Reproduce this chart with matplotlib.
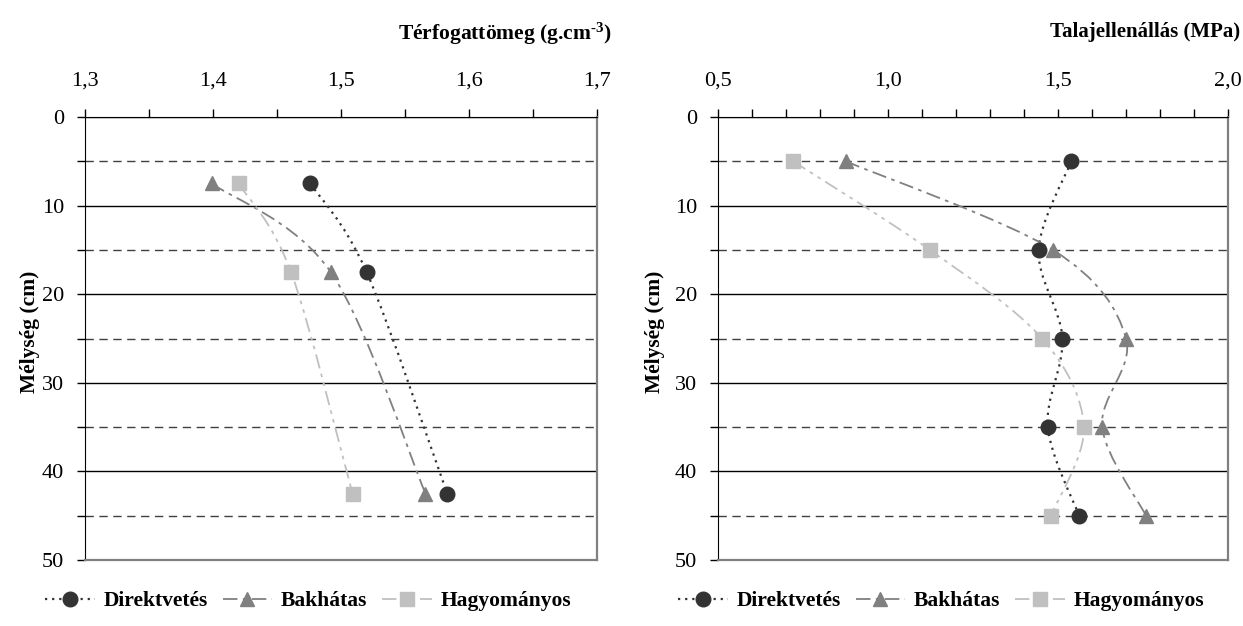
import numpy as np
import matplotlib
matplotlib.use("Agg")
import matplotlib.pyplot as plt
from matplotlib.path import Path
from matplotlib.patches import PathPatch
from matplotlib.lines import Line2D
from matplotlib.ticker import MultipleLocator, FuncFormatter

plt.rcParams['font.family'] = ['Liberation Serif', 'DejaVu Serif']
plt.rcParams['mathtext.fontset'] = 'custom'
plt.rcParams['mathtext.rm'] = 'Liberation Serif'
plt.rcParams['mathtext.bf'] = 'Liberation Serif:bold'

# --- data ---------------------------------------------------------------
series_names = ["Direktvetés", "Bakhátas", "Hagyományos"]

# left panel: bulk density (g/cm3) vs depth (cm)
depth_left = [7.5, 17.5, 42.5]
density_direkt = [1.476, 1.520, 1.583]
density_bakhatas = [1.399, 1.492, 1.566]
density_hagyom = [1.420, 1.461, 1.509]

# right panel: penetration resistance (MPa) vs depth (cm)
depth_right = [5, 15, 25, 35, 45]
resist_direkt = [1.539, 1.443, 1.513, 1.470, 1.562]
resist_bakhatas = [0.876, 1.485, 1.700, 1.630, 1.759]
resist_hagyom = [0.721, 1.123, 1.453, 1.576, 1.479]

left_title = "Térfogattömeg (g.cm$\\mathbf{^{\\text{-}3}}$)"
right_title = "Talajellenállás (MPa)"
ylabel = "Mélység (cm)"

# --- styles ------------------------------------------------------------
colors = ["#333333", "#808080", "#c0c0c0"]
markers = ["o", "^", "s"]
msizes = [10.5, 10.5, 10]
linestyles = [(0, (1, 2.2)), (0, (8, 3, 2, 3)), (0, (8, 3, 2, 3, 2, 3))]
linewidths = [1.6, 1.3, 1.3]


def smooth_path(xs, ys):
    # excel-like smoothed line: catmull-rom segments as cubic bezier
    pts = np.column_stack([xs, ys]).astype(float)
    n = len(pts)
    verts = [pts[0]]
    codes = [Path.MOVETO]
    for i in range(n - 1):
        p0 = pts[i - 1] if i > 0 else pts[i]
        p1 = pts[i]
        p2 = pts[i + 1]
        p3 = pts[i + 2] if i + 2 < n else pts[i + 1]
        c1 = p1 + (p2 - p0) / 6.0
        c2 = p2 - (p3 - p1) / 6.0
        verts += [c1, c2, p2]
        codes += [Path.CURVE4] * 3
    return Path(verts, codes)


def draw_panel(ax, depth, values, xlim, xmajor, xminor, fmt):
    for k, vals in enumerate(values):
        patch = PathPatch(smooth_path(vals, depth), fill=False,
                          edgecolor=colors[k], linestyle=linestyles[k],
                          linewidth=linewidths[k], zorder=3)
        ax.add_patch(patch)
        ax.plot(vals, depth, linestyle="none", marker=markers[k],
                markersize=msizes[k], color=colors[k], zorder=4)

    ax.set_xlim(*xlim)
    ax.set_ylim(50, 0)
    ax.xaxis.tick_top()
    ax.xaxis.set_major_locator(MultipleLocator(xmajor))
    ax.xaxis.set_minor_locator(MultipleLocator(xminor))
    ax.xaxis.set_major_formatter(FuncFormatter(lambda v, p: fmt.format(v).replace(".", ",")))
    ax.yaxis.set_major_locator(MultipleLocator(10))
    ax.yaxis.set_minor_locator(MultipleLocator(5))
    ax.tick_params(axis="both", which="both", direction="out", length=6,
                   width=1, labelsize=16, colors="black")
    ax.tick_params(axis="x", pad=13)
    ax.tick_params(axis="y", pad=9)

    ax.grid(which="major", axis="y", color="black", linewidth=1.0, zorder=1)
    ax.grid(which="minor", axis="y", color="#404040", linewidth=1.0,
            linestyle=(0, (6, 4)), zorder=1)
    ax.set_axisbelow(True)

    ax.spines["left"].set_color("black")
    ax.spines["top"].set_color("black")
    ax.spines["right"].set_color("#808080")
    ax.spines["bottom"].set_color("#808080")
    for s in ["right", "bottom"]:
        ax.spines[s].set_linewidth(1.6)


fig = plt.figure(figsize=(12.43, 6.26), dpi=100)
ax1 = fig.add_axes([85 / 1243, 1 - 560 / 626, 512 / 1243, 443 / 626])
ax2 = fig.add_axes([718 / 1243, 1 - 560 / 626, 510 / 1243, 443 / 626])

draw_panel(ax1, depth_left, [density_direkt, density_bakhatas, density_hagyom],
           (1.3, 1.7), 0.1, 0.05, "{:.1f}")
draw_panel(ax2, depth_right, [resist_direkt, resist_bakhatas, resist_hagyom],
           (0.5, 2.0), 0.5, 0.1, "{:.1f}")

fig.text(612 / 1243, 1 - 34 / 626, left_title, ha="right", va="center",
         fontsize=15.5, fontweight="bold")
fig.text(1240 / 1243, 1 - 32 / 626, right_title, ha="right", va="center",
         fontsize=15, fontweight="bold")
fig.text(30 / 1243, 1 - 332 / 626, ylabel, rotation=90, ha="center", va="center",
         fontsize=15.5, fontweight="bold")
fig.text(655 / 1243, 1 - 332 / 626, ylabel, rotation=90, ha="center", va="center",
         fontsize=15.5, fontweight="bold")

handles = [Line2D([], [], color=colors[k], linestyle=linestyles[k],
                  linewidth=linewidths[k], marker=markers[k],
                  markersize=msizes[k]) for k in range(3)]

for cx in [308 / 1243, 941 / 1243]:
    leg = fig.legend(handles, series_names, loc="center", ncol=3,
                     bbox_to_anchor=(cx, 1 - 601 / 626), frameon=False,
                     prop={"size": 15.5, "weight": "bold"}, handlelength=2.3,
                     handletextpad=0.4, columnspacing=0.7)

fig.savefig("out.png", dpi=100)
